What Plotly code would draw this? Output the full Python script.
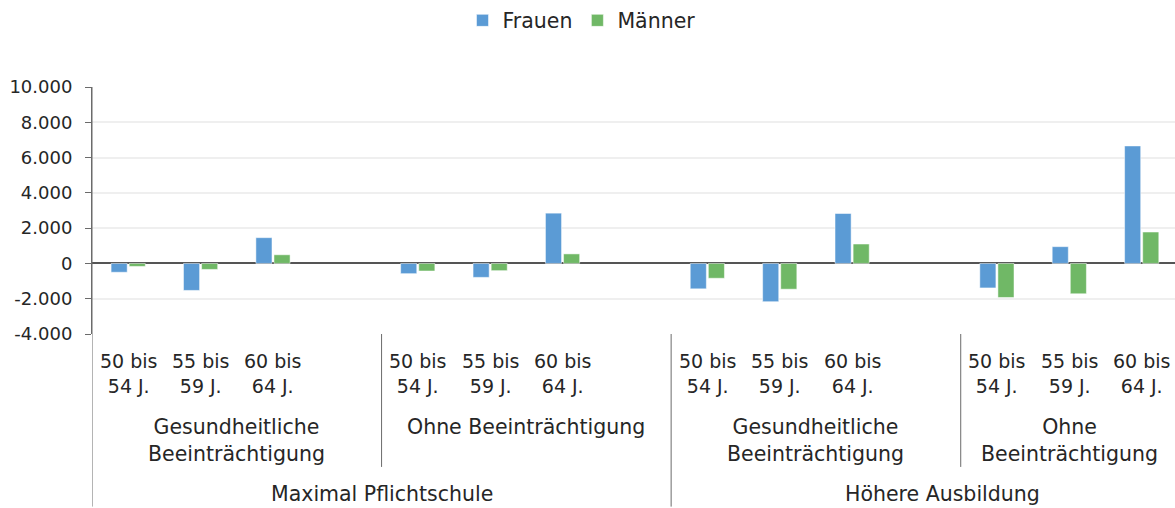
import plotly.graph_objects as go

# Werte je Block: Bildung x Beeinträchtigung, jeweils drei Altersgruppen
age_labels = ["50 bis<br>54 J.", "55 bis<br>59 J.", "60 bis<br>64 J."]
health_labels = ["Gesundheitliche<br>Beeinträchtigung", "Ohne Beeinträchtigung",
                 "Gesundheitliche<br>Beeinträchtigung", "Ohne<br>Beeinträchtigung"]
education_labels = ["Maximal Pflichtschule", "Höhere Ausbildung"]

frauen = [-500, -1530, 1460,
          -580, -790, 2850,
          -1440, -2170, 2830,
          -1390, 950, 6660]
maenner = [-170, -340, 490,
           -430, -410, 540,
           -840, -1460, 1100,
           -1930, -1720, 1780]

y_ticks = [-4000, -2000, 0, 2000, 4000, 6000, 8000, 10000]
y_ticktext = ["-4.000", "-2.000", "0", "2.000", "4.000", "6.000", "8.000", "10.000"]

BLUE = "#5B9BD5"
GREEN = "#70B866"
FONT = "DejaVu Sans"
TXT = "#262626"
LINE = "#6b6b6b"

# each block gets 4 slots (last one empty), the final block only 3
x_pos = [b * 4 + a for b in range(4) for a in range(3)]

W, H = 1175, 508
M_L, M_T, M_B = 92, 85, 174
PLOT_H = H - M_T - M_B


def py(px_y):
    """pixel y (from top of figure) -> paper y"""
    return (H - M_B - px_y) / PLOT_H


fig = go.Figure()
fig.add_trace(go.Bar(x=x_pos, y=frauen, name="Frauen", marker_color=BLUE,
                     marker_line=dict(color="rgba(255,255,255,0.5)", width=1)))
fig.add_trace(go.Bar(x=x_pos, y=maenner, name="Männer", marker_color=GREEN,
                     marker_line=dict(color="rgba(255,255,255,0.5)", width=1)))

# age labels
for x in x_pos:
    fig.add_annotation(x=x, y=py(374), xref="x", yref="paper", text=age_labels[x % 4],
                       showarrow=False, font=dict(size=19, family=FONT, color=TXT),
                       yanchor="middle", align="center")

# second level labels (top aligned like Excel)
health_centers = [1.5, 5.5, 9.5, 13.0]
for c, lab in zip(health_centers, health_labels):
    fig.add_annotation(x=c, y=py(414), xref="x", yref="paper", text=lab,
                       showarrow=False, font=dict(size=20.5, family=FONT, color=TXT),
                       yanchor="top", align="center")

# top level labels
for c, lab in zip([3.5, 11.25], education_labels):
    fig.add_annotation(x=c, y=py(495), xref="x", yref="paper", text=lab,
                       showarrow=False, font=dict(size=20.5, family=FONT, color=TXT),
                       yanchor="middle", align="center")

# divider lines of the multi-level axis
for xb, bottom in [(-0.5, 508), (3.5, 468), (7.5, 508), (11.5, 468)]:
    fig.add_shape(type="line", xref="x", yref="paper", x0=xb, x1=xb,
                  y0=0 if xb > 0 else 1, y1=py(bottom),
                  line=dict(color=LINE, width=1))

fig.update_layout(
    width=W, height=H,
    margin=dict(l=M_L, r=0, t=M_T, b=M_B),
    plot_bgcolor="white", paper_bgcolor="white",
    barmode="group", bargap=0.5, bargroupgap=0.11,
    font=dict(family=FONT, size=18, color=TXT),
    showlegend=True,
    legend=dict(orientation="h", x=(W / 2 - M_L - 6) / (W - M_L), xanchor="center",
                y=py(18), yanchor="middle", font=dict(size=20.5, family=FONT),
                itemwidth=30, tracegroupgap=0),
)
fig.update_xaxes(range=[-0.5, 14.46], showticklabels=False, showgrid=False,
                 zeroline=False, showline=False, ticks="")
fig.update_yaxes(range=[-4000, 10000], tickvals=y_ticks, ticktext=y_ticktext,
                 showgrid=True, gridcolor="#efefef", gridwidth=1.5,
                 zeroline=True, zerolinecolor="#555555", zerolinewidth=1.5,
                 ticks="outside", ticklen=6, tickcolor=LINE, ticklabelstandoff=9,
                 showline=True, linecolor=LINE, linewidth=1,
                 tickfont=dict(size=18, family=FONT, color=TXT))

fig.write_html("out.html", config={"displayModeBar": False},
               post_script="document.body.style.margin='0';")
